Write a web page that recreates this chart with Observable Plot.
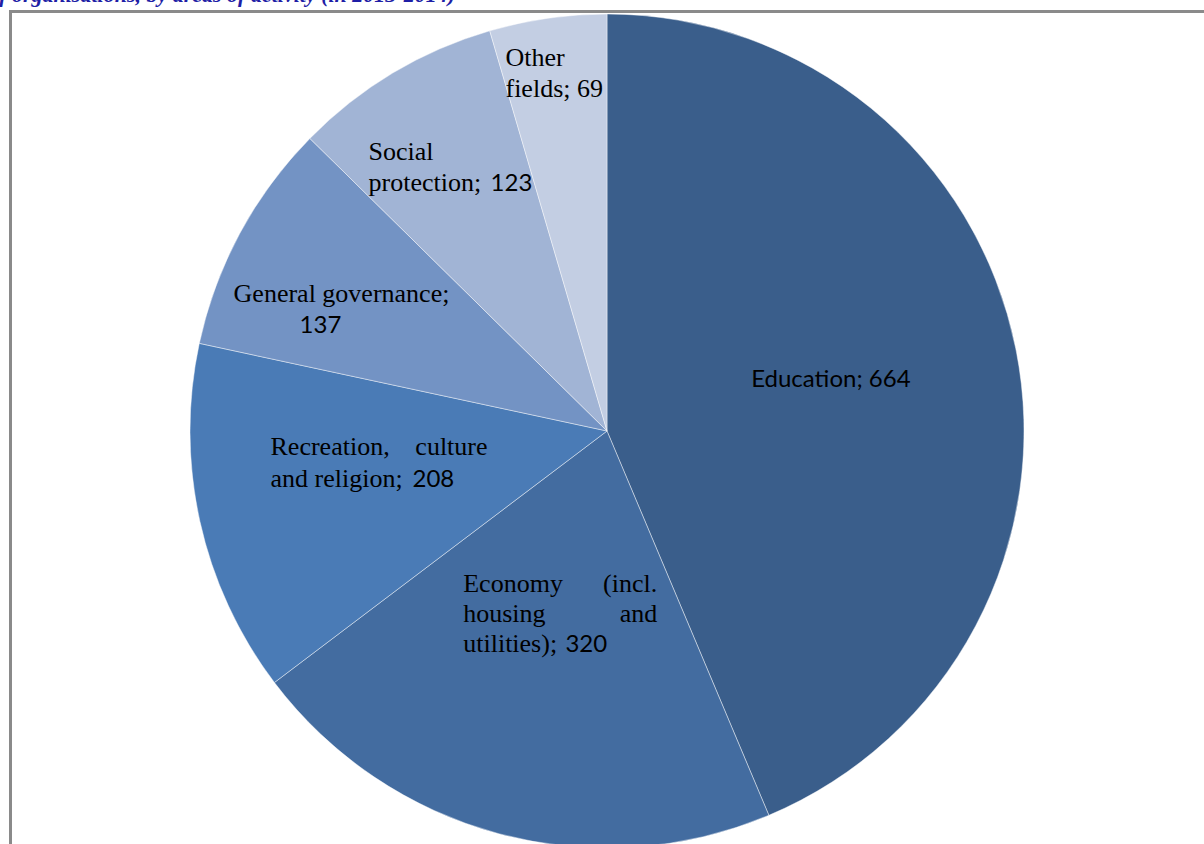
<!DOCTYPE html>
<html>
<head>
<meta charset="utf-8">
<script src="https://cdn.jsdelivr.net/npm/d3@7"></script>
<script src="https://cdn.jsdelivr.net/npm/@observablehq/plot@0.6"></script>
<style>
  html, body { margin: 0; padding: 0; background: #fff; overflow: hidden; }
  #wrap { position: relative; width: 1204px; height: 844px; overflow: hidden; background: #fff; }
  #title { position: absolute; top: -16px; right: 749px; white-space: nowrap;
           font: italic bold 22px "Liberation Serif", serif; line-height: 22px; color: #1e1ea6; }
  #frame { position: absolute; left: 9px; top: 10px; width: 1300px; height: 900px;
           border-left: 3px solid #8a8a8a; border-top: 3px solid #8a8a8a; z-index: 2; pointer-events: none; }
  #chart { position: absolute; left: 0; top: 0; }
</style>
</head>
<body>
<div id="wrap">
  <div id="title">Figure 2. Number of organisations, by areas of activity (in 2013-2014)</div>
  <div id="chart"></div>
  <div id="frame"></div>
</div>
<script>
// ---- data ----
const categories = ["Education", "Economy (incl. housing and utilities)", "Recreation, culture and religion",
                    "General governance", "Social protection", "Other fields"];
const values = [664, 320, 208, 137, 123, 69];
const sliceColors = ["#3a5e8b", "#436ca0", "#4a7bb6", "#7393c4", "#a1b4d5", "#c3cee3"];

// ---- label texts (split into lines / font runs) ----
const labelTexts = [
  {cat: 0, text: "Education; 664", font: "sans"},
  {cat: 1, text: "Economy", font: "serif"},
  {cat: 1, text: "(incl.", font: "serif"},
  {cat: 1, text: "housing", font: "serif"},
  {cat: 1, text: "and", font: "serif"},
  {cat: 1, text: "utilities);", font: "serif"},
  {cat: 1, text: "320", font: "sans"},
  {cat: 2, text: "Recreation,", font: "serif"},
  {cat: 2, text: "culture", font: "serif"},
  {cat: 2, text: "and religion;", font: "serif"},
  {cat: 2, text: "208", font: "sans"},
  {cat: 3, text: "General governance;", font: "serif"},
  {cat: 3, text: "137", font: "sans"},
  {cat: 4, text: "Social", font: "serif"},
  {cat: 4, text: "protection;", font: "serif"},
  {cat: 4, text: "123", font: "sans"},
  {cat: 5, text: "Other", font: "serif"},
  {cat: 5, text: "fields; 69", font: "serif"}
];

// ---- label layout: pixel offsets from each slice centroid (same order as labelTexts) ----
const labelLayout = [
  {anchor: "middle", dx: 19, dy: -3},
  {anchor: "start", dx: -90.2, dy: -40.7},
  {anchor: "end", dx: 103.8, dy: -40.7},
  {anchor: "start", dx: -90.2, dy: -10.7},
  {anchor: "end", dx: 103.8, dy: -10.7},
  {anchor: "start", dx: -90.2, dy: 19.3},
  {anchor: "start", dx: 12, dy: 19.3},
  {anchor: "start", dx: -133.4, dy: -21.1},
  {anchor: "end", dx: 83.6, dy: -21.1},
  {anchor: "start", dx: -133.4, dy: 10.6},
  {anchor: "start", dx: 8.6, dy: 10.6},
  {anchor: "start", dx: -190.4, dy: -30.4},
  {anchor: "start", dx: -124.4, dy: 0.9},
  {anchor: "start", dx: -131.9, dy: -92.1},
  {anchor: "start", dx: -131.9, dy: -61.1},
  {anchor: "start", dx: -9.9, dy: -61.1},
  {anchor: "start", dx: -72.4, dy: -159.6},
  {anchor: "start", dx: -72.4, dy: -128.1}
];

// ---- geometry ----
const xRange = [190, 1024];
const yRange = [848, 14];
const R = (xRange[1] - xRange[0]) / 2; // pixels per unit

const rows = categories.map((c, i) => ({category: c, value: values[i], color: sliceColors[i]}));
const arcs = d3.pie().sort(null).value(d => d.value)(rows);
const unitArc = d3.arc().innerRadius(0).outerRadius(1);

const frags = labelTexts.map((t, i) => {
  const L = labelLayout[i];
  const c = unitArc.centroid(arcs[t.cat]);
  return {...t, ...L, x: c[0] + L.dx / R, y: -c[1] - L.dy / R};
});

function pieMark(index, scales) {
  const cx = scales.x(0), cy = scales.y(0), r = scales.x(1) - scales.x(0);
  const arc = d3.arc().innerRadius(0).outerRadius(r);
  const g = d3.create("svg:g").attr("transform", `translate(${cx},${cy})`);
  g.selectAll("path").data(arcs).join("path")
    .attr("d", arc)
    .attr("fill", d => d.data.color)
    .attr("stroke", "#ffffff")
    .attr("stroke-opacity", 0.8)
    .attr("stroke-width", 0.55)
    .attr("stroke-linejoin", "round");
  return g.node();
}

function textMark(font, anchor) {
  return Plot.text(frags.filter(f => f.font === font && f.anchor === anchor), {
    x: "x", y: "y", text: "text",
    textAnchor: anchor, lineAnchor: "bottom",
    fontFamily: font === "serif" ? "Liberation Serif" : "Lato",
    fontSize: font === "serif" ? 26 : 24,
    fill: "#000"
  });
}

const chart = Plot.plot({
  width: 1204,
  height: 844,
  margin: 0,
  x: {domain: [-1, 1], range: xRange, axis: null},
  y: {domain: [-1, 1], range: yRange, axis: null},
  style: {background: "transparent"},
  marks: [
    pieMark,
    textMark("serif", "start"),
    textMark("serif", "end"),
    textMark("sans", "start"),
    textMark("sans", "middle")
  ]
});
document.getElementById("chart").appendChild(chart);
</script>
</body>
</html>
